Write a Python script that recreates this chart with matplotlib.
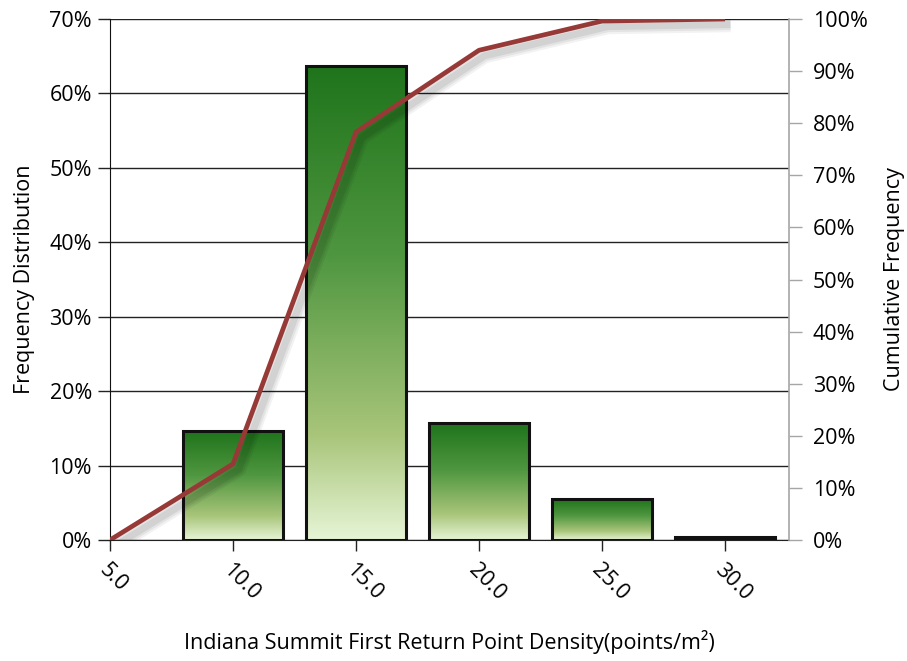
import numpy as np
import matplotlib
matplotlib.use("Agg")
import matplotlib.pyplot as plt
from matplotlib.colors import LinearSegmentedColormap
from matplotlib.ticker import PercentFormatter, FixedLocator
import matplotlib.patheffects as pe

plt.rcParams['font.family'] = ['Open Sans', 'DejaVu Sans']

# Point-density bins (points/m²)
bin_centers = [10.0, 15.0, 20.0, 25.0, 30.0]
freq_pct = [14.6, 63.7, 15.7, 5.5, 0.4]
cum_x = [5.0, 10.0, 15.0, 20.0, 25.0, 30.0]
cum_pct = [0.0, 14.6, 78.3, 94.0, 99.6, 100.0]
tick_labels = ["5.0", "10.0", "15.0", "20.0", "25.0", "30.0"]

FS = 15.5

fig = plt.figure(figsize=(9.07, 6.61), dpi=100)
ax = fig.add_axes([110 / 907, 1 - 540 / 661, (789 - 110) / 907, (540 - 19) / 661])

ax.set_xlim(5.0, 32.6)
ax.set_ylim(0, 70)

# grid lines at the left-axis ticks
for v in range(0, 71, 10):
    ax.axhline(v, color="#222222", lw=1.0, zorder=1)

bar_cmap = LinearSegmentedColormap.from_list(
    "greens", [(0.0, "#e6f5d6"), (0.22, "#a9c57a"), (0.6, "#4f9640"), (1.0, "#1f741b")])
grad = np.linspace(0, 1, 256).reshape(-1, 1)

bar_w = 4.07
for xc, h in zip(bin_centers, freq_pct):
    bar = ax.bar(xc, h, width=bar_w, facecolor="none", edgecolor="#111111",
                 linewidth=2.2, zorder=3)[0]
    im = ax.imshow(grad, cmap=bar_cmap, origin="lower", aspect="auto",
                   extent=[xc - bar_w / 2, xc + bar_w / 2, 0, h], zorder=2)
    im.set_clip_path(bar)

ax.set_xticks(cum_x)
ax.set_xticklabels(tick_labels, rotation=-45, ha="left", va="top",
                   rotation_mode="anchor", fontsize=FS)
ax.tick_params(axis="x", length=8, width=1.0, color="#222222", pad=6)
ax.yaxis.set_major_locator(FixedLocator(range(0, 71, 10)))
ax.yaxis.set_major_formatter(PercentFormatter(decimals=0))
ax.tick_params(axis="y", length=9, width=1.0, color="#222222", labelsize=FS, pad=4)

ax.spines["top"].set_visible(False)
ax.spines["right"].set_visible(False)
ax.spines["left"].set_color("#111111")
ax.spines["bottom"].set_color("#222222")

ax.set_ylabel("Frequency Distribution", fontsize=FS, labelpad=10)
ax.set_xlabel("Indiana Summit First Return Point Density(points/m²)", fontsize=FS, labelpad=18)

ax2 = ax.twinx()
ax2.set_ylim(0, 100)
shadow = [pe.SimpleLineShadow(offset=(4, -4), shadow_color="#000000", alpha=a, linewidth=w)
          for a, w in [(0.05, 11), (0.06, 8), (0.07, 5)]]
ax2.plot(cum_x, cum_pct, color="#973a37", lw=3.4, solid_capstyle="butt", zorder=5,
         path_effects=shadow + [pe.Normal()])
ax2.yaxis.set_major_locator(FixedLocator(range(0, 101, 10)))
ax2.yaxis.set_major_formatter(PercentFormatter(decimals=0))
ax2.tick_params(axis="y", length=9, width=1.0, color="#a6a6a6", labelsize=FS, pad=8)
for s in ["top", "left", "bottom"]:
    ax2.spines[s].set_visible(False)
ax2.spines["right"].set_color("#a6a6a6")
ax2.spines["right"].set_linewidth(1.2)
ax2.set_ylabel("Cumulative Frequency", fontsize=FS, labelpad=12)

fig.savefig("out.png", dpi=100)
